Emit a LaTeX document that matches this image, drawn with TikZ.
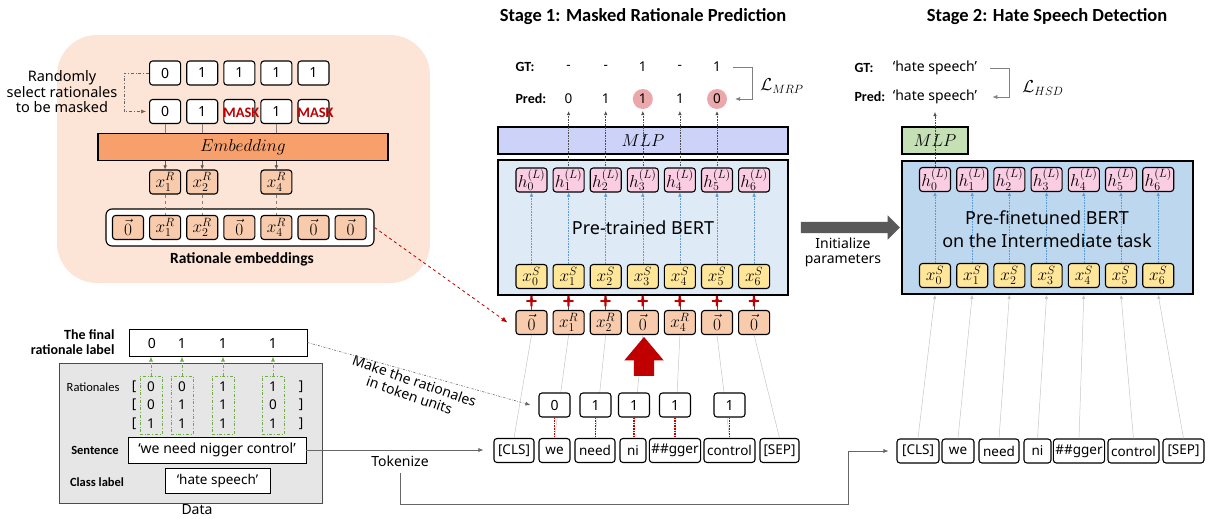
\documentclass[tikz,border=0pt]{standalone}
\usepackage{fontspec}
\setmainfont{Noto Sans}
\newfontfamily\calib{Carlito}
\usetikzlibrary{arrows.meta,shapes.arrows}

\definecolor{panel}{HTML}{FCE4D6}
\definecolor{ratfill}{HTML}{F8CBAD}
\definecolor{embfill}{HTML}{F7A06C}
\definecolor{mlpblue}{HTML}{CDD2F8}
\definecolor{mlpgreen}{HTML}{C5E0B4}
\definecolor{bertlight}{HTML}{DEEBF7}
\definecolor{bertdark}{HTML}{BDD7EE}
\definecolor{hfill}{HTML}{FACDE3}
\definecolor{xsfill}{HTML}{FFE699}
\definecolor{hitpink}{HTML}{EBA8AA}
\definecolor{darkred}{HTML}{C00000}
\definecolor{leafgreen}{HTML}{70AD47}
\definecolor{linkblue}{HTML}{5B9BD5}
\definecolor{datagray}{HTML}{E7E6E6}
\definecolor{arrowgray}{HTML}{595959}

\newcommand{\fs}[2]{\fontsize{#1}{#2}\selectfont}

\tikzset{
  cell/.style={draw, line width=1.1pt, rounded corners=3pt, minimum width=31pt,
    minimum height=24pt, inner sep=0pt, font=\fs{14}{15}},
  mcell/.style={cell, font=\fs{18}{18}},
  tok/.style={cell, minimum width=#1, inner xsep=2pt, font=\fs{13.5}{15}},
  bar/.style={draw, line width=1.6pt, minimum height=27pt, inner sep=0pt},
  lbl/.style={font=\calib\bfseries\fs{14}{15}},
  val/.style={font=\fs{13.5}{15}, inner sep=1pt},
  plussign/.style={text=darkred, font=\calib\bfseries\fs{22}{22}, inner sep=0pt},
  masktext/.style={text=darkred, font=\calib\bfseries\fs{14.5}{15}, inner sep=0pt},
  thinline/.style={draw=gray!45, line width=0.5pt},
  smalltip/.style={-{Latex[length=4pt,width=3.5pt]}},
  dotarrow/.style={densely dotted, draw=gray!60!black, line width=0.6pt, smalltip},
  bluearrow/.style={densely dotted, draw=linkblue, line width=0.6pt, smalltip},
  hook/.style={draw=gray, line width=0.6pt, -{Latex[length=5pt,width=4pt]}},
  guide/.style={draw=gray!80!black, line width=0.6pt, -{Latex[length=5pt,width=4pt]}}
}

\begin{document}
\begin{tikzpicture}[x=1pt,y=-1pt]
\useasboundingbox (0,0) rectangle (1208,519);

% masking of the rationales
\fill[panel, rounded corners=40pt] (57,35) rectangle (430,283);
\node[align=center, font=\fs{14.5}{15.5}] (rnd) at (62,92) {Randomly\\select rationales\\to be masked};
\foreach \v [count=\i] in {0,1,1,1,1}
  \node[cell, fill=white] (top\i) at ({128+37.1*\i},73) {\v};
\foreach \v [count=\i] in {0,1,{},1,{}}
  \node[cell, fill=white] (sel\i) at ({128+37.1*\i},111.5) {\v};
\foreach \i in {3,5}
  \node[masktext] at ([xshift=2pt,yshift=-1pt]sel\i) {MASK};
\draw[guide, dash dot, shorten >=3pt] (top1.west) -- ++(-25,0) |- (sel1.west);

\node[bar, fill=embfill, minimum width=290pt, font=\fs{17}{18}] (emb) at (243,147) {$Embedding$};
\foreach \i in {1,2,4} {
  \node[mcell, fill=ratfill] (xr\i) at ({128+37.1*\i},182) {$x_\i^R$};
  \draw[gray, line width=0.5pt] (sel\i.south) -- (sel\i.south |- emb.north);
  \draw[gray!70!black, line width=0.5pt, smalltip] (sel\i.south |- emb.south) -- (xr\i.north);
}

\node[draw, line width=1.1pt, rounded corners=6pt, fill=white, minimum width=268pt,
  minimum height=37pt] (remb) at (240,227.5) {};
\foreach \t [count=\i from 0] in {$\vec{0}$, $x_1^R$, $x_2^R$, $\vec{0}$, $x_4^R$, $\vec{0}$, $\vec{0}$}
  \node[mcell, fill=ratfill] (re\i) at ({128+37.1*\i},227.5) {\t};
\foreach \i in {1,2,4}
  \draw[gray, dashed, line width=0.5pt] (xr\i.south) -- (re\i.north);
\node[font=\calib\bfseries\fs{15.5}{17}] (rembl) at (242,259) {Rationale embeddings};

% stage 1
\node[font=\calib\bfseries\fs{18.5}{20}] (st1) at (643,17) {Stage 1: Masked Rationale Prediction};
\node[lbl, anchor=west] (gt1) at (512,67) {GT:};
\node[lbl, anchor=west] (pr1) at (512,99) {Pred:};
\foreach \i in {3,5}
  \fill[hitpink] ({531.5+37.1*\i},99) circle (10pt);
\foreach \g/\p [count=\i] in {-/0,-/1,1/1,-/1,1/0} {
  \node[val] (g\i) at ({531.5+37.1*\i},67) {\g};
  \node[val] (p\i) at ({531.5+37.1*\i},99) {\p};
}
\draw[hook] ([xshift=11pt]g5.east) -- ++(19,0) |- ([xshift=13pt]p5.east);
\node[font=\fs{18}{18}] (lmrp) at (782,86) {$\mathcal{L}_{MRP}$};

\node[bar, fill=mlpblue, minimum width=290pt, font=\fs{16}{17}] (mlp1) at (643,140.5) {$MLP$};
\node[draw, line width=1.7pt, fill=bertlight, minimum width=290pt, minimum height=135pt] (bert1) at (643,227.5) {};
\foreach \i in {0,...,6} {
  \node[mcell, fill=hfill] (h\i) at ({531.5+37.1*\i},180) {$h_\i^{(L)}$};
  \node[mcell, fill=xsfill] (xs\i) at ({531.5+37.1*\i},276.5) {$x_\i^S$};
  \draw[bluearrow] (xs\i) -- (h\i);
}
\node[font=\fs{18}{20}] (bert1l) at (643,228) {Pre-trained BERT};
\foreach \i in {1,...,5}
  \draw[dotarrow] (h\i.north) -- ([yshift=-6pt]p\i.south);

\foreach \t [count=\i from 0] in {$\vec{0}$, $x_1^R$, $x_2^R$, $\vec{0}$, $x_4^R$, $\vec{0}$, $\vec{0}$} {
  \node[mcell, fill=ratfill] (r\i) at ({531.5+37.1*\i},322.5) {\t};
  \draw[gray!60!black, line width=0.5pt, smalltip] (r\i.north) -- (r\i.north |- bert1.south);
  \node[plussign] at ({531.5+37.1*\i},302) {+};
}
\draw[darkred, dashed, line width=0.8pt, -{Latex[length=6pt,width=5pt]}] (remb.east) -- ([xshift=-8pt]r0.west);

% tokens and rationales in token units
\foreach \t/\x/\w [count=\i from 0] in {{[CLS]}/514/40,we/554.5/31,need/595/40,ni/633/26,{\#\#gger}/675/48,control/729.5/51,{[SEP]}/779.5/39}
  \node[tok=\w, fill=white] (tok\i) at (\x,450.5) {\t};
\foreach \i in {0,...,6}
  \draw[thinline] (tok\i.north) -- (r\i.south);
\node[single arrow, fill=darkred, shape border rotate=90, inner sep=10pt, single arrow head extend=9.5pt,
  single arrow tip angle=80, minimum height=39pt] (lift) at (644,362.5) {};
\foreach \v/\x [count=\i] in {0/554.5,1/595.5,1/634,1/675,1/729.5}
  \node[cell, fill=white] (n\i) at (\x,405) {\v};
\foreach \i in {1,...,5}
  \draw[darkred, densely dotted, line width=1.6pt] (n\i.south) -- (n\i.south |- tok\i.north);
\node[rotate=-19, align=center, font=\fs{14}{15}] (mk) at (412,388) {Make the rationales\\in token units};

% parameter transfer
\node[single arrow, fill=arrowgray, inner xsep=0pt, inner ysep=5.5pt, single arrow head extend=6.5pt,
  minimum height=99pt] (init) at (847.5,227.5) {};
\node[align=center, font=\fs{14}{15.5}] (initl) at (843,252.5) {Initialize\\parameters};

% stage 2
\node[font=\calib\bfseries\fs{18.5}{20}] (st2) at (1047,17) {Stage 2: Hate Speech Detection};
\node[lbl, anchor=west] (gt2) at (851,68) {GT:};
\node[lbl, anchor=west] (pr2) at (851,97) {Pred:};
\node[val, font=\fs{14}{15}] (hg) at (935,68) {‘hate speech’};
\node[val, font=\fs{14}{15}] (hp) at (935,97) {‘hate speech’};
\draw[hook] ([xshift=12pt]hg.east) -- ++(19,0) |- ([xshift=14pt]hp.east);
\node[font=\fs{18}{18}] (lhsd) at (1043,88) {$\mathcal{L}_{HSD}$};

\node[bar, fill=mlpgreen, minimum width=66pt, font=\fs{16}{17}] (mlp2) at (935,140.5) {$MLP$};
\node[draw, line width=1.7pt, fill=bertdark, minimum width=291pt, minimum height=133pt] (bert2) at (1047.5,227.5) {};
\foreach \i in {0,...,6} {
  \node[mcell, fill=hfill] (fh\i) at ({935+37.2*\i},179.5) {$h_\i^{(L)}$};
  \node[mcell, fill=xsfill] (fxs\i) at ({935+37.2*\i},275.5) {$x_\i^S$};
  \draw[bluearrow] (fxs\i) -- (fh\i);
}
\node[align=center, font=\fs{18}{23}] (bert2l) at (1047,229) {Pre-finetuned BERT\\on the Intermediate task};
\draw[dotarrow] (fh0.north) -- (935,112);
\foreach \t/\x/\w [count=\i from 0] in {{[CLS]}/918/42,we/958/32,need/999/40,ni/1037.5/27,{\#\#gger}/1079/50,control/1133.5/51,{[SEP]}/1183.5/41} {
  \node[tok=\w, fill=white] (ftok\i) at (\x,451) {\t};
  \draw[thinline, smalltip] (ftok\i.north) -- (fxs\i.south |- bert2.south);
}

% data
\node[draw=gray!60!black, line width=0.8pt, fill=datagray, minimum width=263pt, minimum height=140pt] (data) at (190.5,433) {};
\node[draw, line width=1pt, fill=white, minimum width=178pt, minimum height=27pt] (final) at (218,342.5) {};
\node[align=right, anchor=east, font=\calib\bfseries\fs{14}{14.5}] (finall) at (118,342) {The final\\rationale label};
\foreach \v/\x [count=\i] in {0/152,1/182,1/223,1/273}
  \node[val, font=\fs{14}{15}] (f\i) at (\x,343) {\v};
\node[anchor=east, font=\calib\fs{12.5}{14}] (ratl) at (123,387) {Rationales};
\foreach \y in {386.5,405,423.5} {
  \node[val] at (134,\y) {[};
  \node[val] at (301,\y) {]};
}
\foreach \x/\a/\b/\c [count=\k] in {151/0/0/1,182/0/1/1,223/1/1/1,273/1/0/1} {
  \node[val] (ra\k) at (\x,386.5) {\a};
  \node[val] (rb\k) at (\x,405) {\b};
  \node[val] (rc\k) at (\x,423.5) {\c};
  \node[draw=leafgreen, dash dot, line width=0.8pt, minimum width=22pt, minimum height=58pt, inner sep=0pt] (col\k) at (\x,405) {};
  \draw[leafgreen, dash dot, line width=0.8pt, -{Latex[length=5pt,width=4pt]}] (col\k.north) -- (col\k.north |- final.south);
}
\node[font=\calib\bfseries\fs{12.5}{14}] (sentl) at (95,450) {Sentence};
\node[draw, line width=0.8pt, fill=white, minimum width=178pt, minimum height=26pt, font=\fs{14}{16}] (sent) at (217,450) {‘we need nigger control’};
\node[font=\calib\bfseries\fs{12.5}{14}] (clsl) at (97,482) {Class label};
\node[draw, line width=0.8pt, fill=white, minimum width=105pt, minimum height=25pt, font=\fs{13.5}{16}] (cls) at (217.5,480.5) {‘hate speech’};
\node[font=\fs{14}{16}] (datal) at (197,510) {Data};

% connections out of the data
\draw[guide, dash pattern=on 2pt off 1.5pt on 0.5pt off 1.5pt] (final.east) -- ([xshift=-8pt]n1.west);
\draw[guide, shorten >=10pt] (sent.east) -- (sent.east -| tok0.west);
\node[font=\fs{14}{16}] (tkz) at (400,461) {Tokenize};
\draw[guide, shorten >=8pt] ([yshift=-3pt]tkz.south) -- (400,504) -| (848,451) -- (ftok0.west);
\end{tikzpicture}
\end{document}
